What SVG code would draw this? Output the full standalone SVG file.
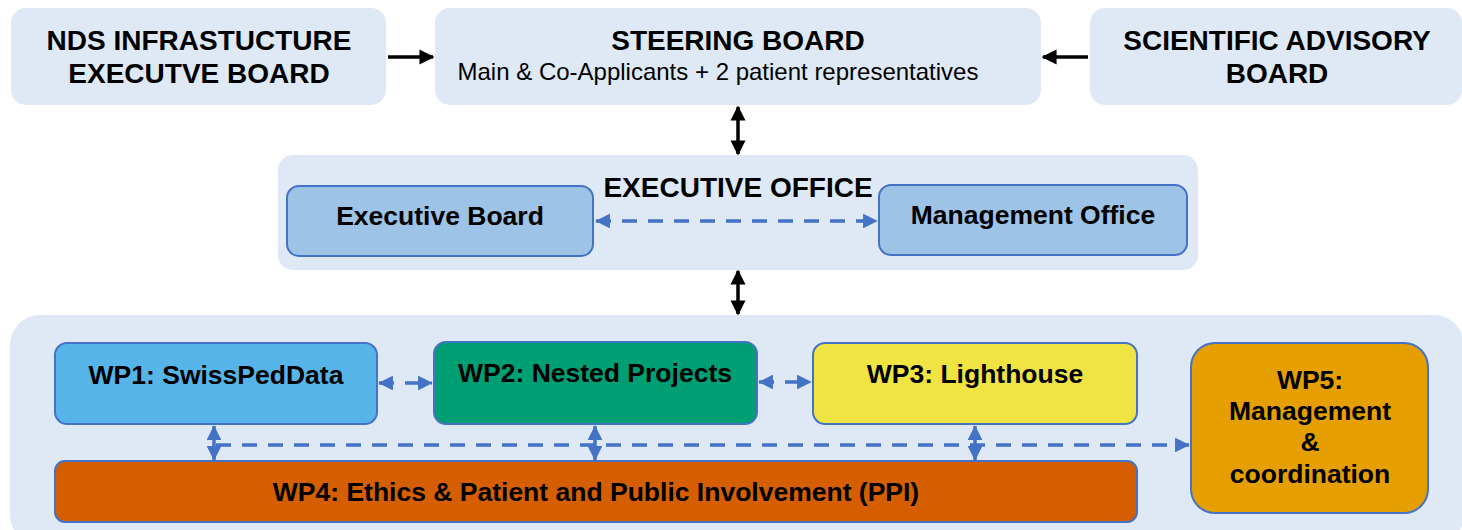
<svg xmlns="http://www.w3.org/2000/svg" width="1462" height="530" viewBox="0 0 1462 530">
<defs>
<style>
.bg{fill:#dee9f5}
.t{font-family:"Liberation Sans",Arial,sans-serif;fill:#000;text-anchor:middle}
.b{font-weight:bold}
.h{font-size:28px}
.n{font-size:26.5px}
.blk{stroke:#000;stroke-width:3.5;fill:none}
.dash{stroke:#4472c4;stroke-width:3.5;fill:none;stroke-dasharray:15 11}
.sol{stroke:#4472c4;stroke-width:3.5;fill:none}
.wp{stroke:#4472c4;stroke-width:2}
</style>
<marker id="ak" viewBox="0 0 10 10" refX="9" refY="5" markerWidth="4.3" markerHeight="4.3" orient="auto-start-reverse" markerUnits="strokeWidth"><path d="M0,0 L10,5 L0,10 z" fill="#000"/></marker>
<marker id="ab" viewBox="0 0 10 10" refX="9.5" refY="5" markerWidth="4.2" markerHeight="4.2" orient="auto-start-reverse" markerUnits="strokeWidth"><path d="M0,0 L10,5 L0,10 z" fill="#4472c4"/></marker>
</defs>

<g id="nds-board">
<rect class="bg" x="11" y="8" width="375" height="97" rx="15"/>
<text class="t b h" x="199" y="50">NDS INFRASTUCTURE</text>
<text class="t b h" x="199" y="83">EXECUTVE BOARD</text>
</g>

<g id="steering-board">
<rect class="bg" x="435" y="8" width="606" height="97" rx="15"/>
<text class="t b h" x="738" y="50">STEERING BOARD</text>
<text class="t" x="718" y="80" font-size="24">Main &amp; Co-Applicants + 2 patient representatives</text>
</g>

<g id="scientific-board">
<rect class="bg" x="1090" y="8" width="372" height="97" rx="15"/>
<text class="t b h" x="1277" y="50">SCIENTIFIC ADVISORY</text>
<text class="t b h" x="1277" y="83">BOARD</text>
</g>

<g id="executive-office">
<rect class="bg" x="278" y="155" width="920" height="115" rx="15"/>
<text class="t b h" x="738" y="197">EXECUTIVE OFFICE</text>
</g>

<g id="executive-board">
<rect x="287" y="186" width="306" height="70" rx="12" fill="#9dc3e6" stroke="#4472c4" stroke-width="2"/>
<text class="t b n" x="440" y="225">Executive Board</text>
</g>

<g id="management-office">
<rect x="879" y="185" width="308" height="70" rx="12" fill="#9dc3e6" stroke="#4472c4" stroke-width="2"/>
<text class="t b n" x="1033" y="224">Management Office</text>
</g>

<g id="work-packages">
<rect class="bg" x="10" y="315" width="1454" height="230" rx="30"/>
</g>

<g id="wp1">
<rect class="wp" x="55" y="343" width="322" height="81" rx="12" fill="#56b4e9"/>
<text class="t b n" x="216" y="384">WP1: SwissPedData</text>
</g>

<g id="wp2">
<rect class="wp" x="434" y="342" width="323" height="82" rx="12" fill="#009e73"/>
<text class="t b n" x="595" y="382">WP2: Nested Projects</text>
</g>

<g id="wp3">
<rect class="wp" x="813" y="343" width="324" height="81" rx="12" fill="#f0e442"/>
<text class="t b n" x="975" y="383">WP3: Lighthouse</text>
</g>

<g id="wp5">
<rect class="wp" x="1191" y="343" width="237" height="170" rx="24" fill="#e69f00"/>
<text class="t b n" x="1310" y="389">WP5:</text>
<text class="t b n" x="1310" y="420">Management</text>
<text class="t b n" x="1310" y="451">&amp;</text>
<text class="t b n" x="1310" y="483">coordination</text>
</g>

<g id="wp4">
<rect class="wp" x="55" y="461" width="1082" height="61" rx="10" fill="#d55e00"/>
<text class="t b n" x="596" y="501">WP4: Ethics &amp; Patient and Public Involvement (PPI)</text>
</g>

<g id="connectors">
<line class="blk" x1="388" y1="57" x2="433" y2="57" marker-end="url(#ak)"/>
<line class="blk" x1="1088" y1="57" x2="1043" y2="57" marker-end="url(#ak)"/>
<line class="blk" x1="738" y1="107" x2="738" y2="154" marker-start="url(#ak)" marker-end="url(#ak)"/>
<line class="blk" x1="738" y1="271" x2="738" y2="314" marker-start="url(#ak)" marker-end="url(#ak)"/>
<line class="dash" x1="596" y1="221" x2="877" y2="221" marker-start="url(#ab)" marker-end="url(#ab)"/>
<line class="dash" x1="379" y1="383" x2="432" y2="383" marker-start="url(#ab)" marker-end="url(#ab)"/>
<line class="dash" x1="759" y1="382" x2="811" y2="382" marker-start="url(#ab)" marker-end="url(#ab)"/>
<line class="dash" x1="216" y1="445" x2="1189" y2="445" marker-end="url(#ab)"/>
<line class="sol" x1="214" y1="426" x2="214" y2="460" marker-start="url(#ab)" marker-end="url(#ab)"/>
<line class="sol" x1="595" y1="426" x2="595" y2="460" marker-start="url(#ab)" marker-end="url(#ab)"/>
<line class="sol" x1="975" y1="426" x2="975" y2="460" marker-start="url(#ab)" marker-end="url(#ab)"/>
</g>
</svg>
